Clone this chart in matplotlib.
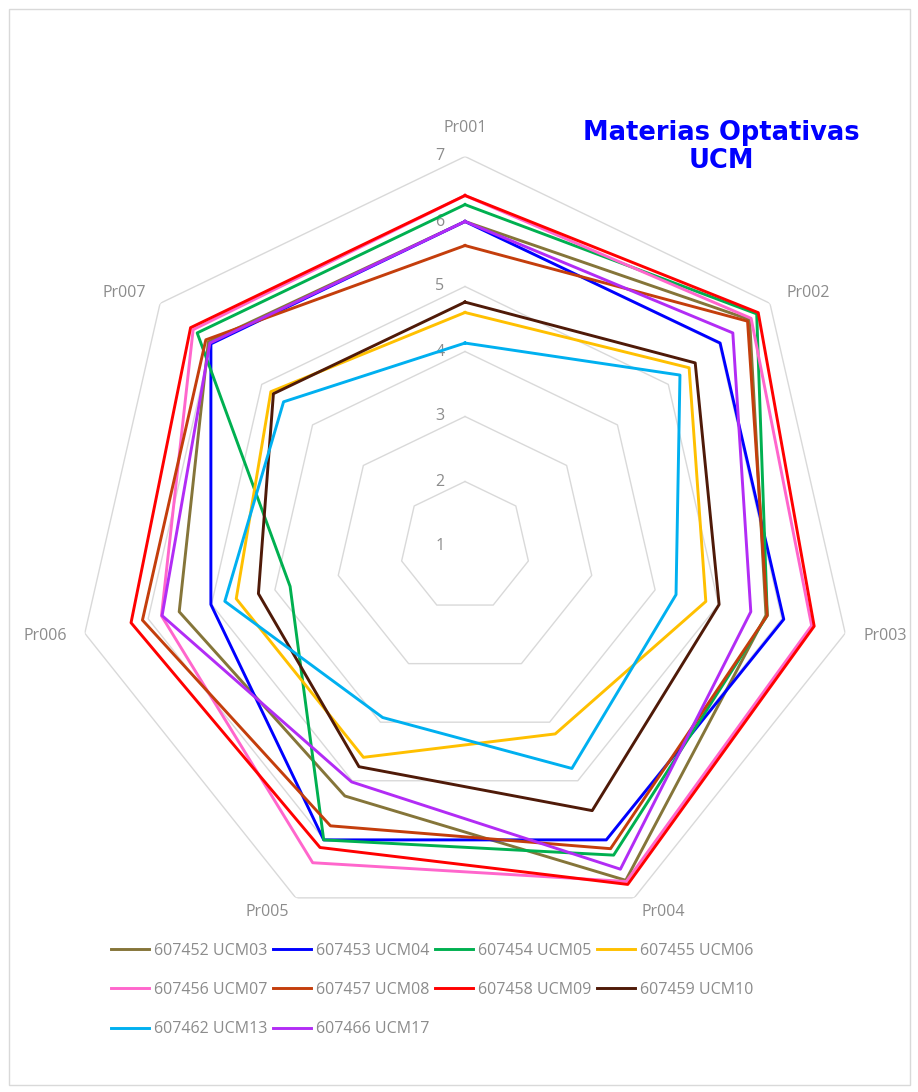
import numpy as np
import matplotlib.pyplot as plt
from matplotlib.patches import Rectangle

# axis categories (clockwise from the top)
categories = ['Pr001', 'Pr002', 'Pr003', 'Pr004', 'Pr005', 'Pr006', 'Pr007']
rticks = [1, 2, 3, 4, 5, 6, 7]

names = ['607452 UCM03', '607453 UCM04', '607454 UCM05', '607455 UCM06', '607456 UCM07',
         '607457 UCM08', '607458 UCM09', '607459 UCM10', '607462 UCM13', '607466 UCM17']

ucm03 = [6.00, 6.60, 5.75, 6.70, 5.26, 5.51, 6.05]
ucm04 = [6.00, 6.02, 6.03, 6.01, 6.01, 5.01, 6.00]
ucm05 = [6.26, 6.74, 5.77, 6.27, 6.01, 3.76, 6.27]
ucm06 = [4.60, 5.41, 4.80, 4.20, 4.60, 4.61, 4.82]
ucm07 = [6.40, 6.63, 6.47, 6.72, 6.40, 5.79, 6.35]
ucm08 = [5.63, 6.56, 5.77, 6.16, 5.77, 6.09, 6.10]
ucm09 = [6.40, 6.77, 6.51, 6.77, 6.14, 6.27, 6.40]
ucm10 = [4.76, 5.53, 5.01, 5.51, 4.76, 4.26, 4.77]
ucm13 = [4.13, 5.23, 4.33, 4.79, 3.92, 4.79, 4.57]
ucm17 = [6.00, 6.27, 5.51, 6.51, 5.02, 5.78, 6.02]

series = [ucm03, ucm04, ucm05, ucm06, ucm07, ucm08, ucm09, ucm10, ucm13, ucm17]
colors = ['#857539', '#0000ff', '#00b050', '#ffc000', '#ff66cc',
          '#c43e0c', '#ff0000', '#4f1a08', '#00b0f0', '#b22cf5']

GRAY = '#8c8c8c'
FONT = ['Open Sans', 'DejaVu Sans']

fig = plt.figure(figsize=(9.18, 10.92), dpi=100)
fig.patches.append(Rectangle((9 / 918, 7 / 1092), 901 / 918, 1076 / 1092, transform=fig.transFigure,
                             fill=False, edgecolor='#d9d9d9', linewidth=1))

ax = fig.add_axes([75 / 918, 155.5 / 1092, 780 / 918, 780 / 1092], projection='polar')
ax.set_theta_zero_location('N')
ax.set_theta_direction(-1)
ax.set_ylim(1, 7)
ax.grid(False)
ax.spines['polar'].set_visible(False)
ax.set_xticks([])
ax.set_yticks([])
ax.set_facecolor('none')

theta = np.linspace(0, 2 * np.pi, len(categories), endpoint=False)
theta_c = np.append(theta, theta[0])

# heptagon gridlines
for r in rticks[1:]:
    ax.plot(theta_c, [r] * len(theta_c), color='#d9d9d9', lw=1.0, zorder=1)

# radial tick labels
for r in rticks:
    ax.annotate(str(r), xy=(0, r), xytext=(-25, 0), textcoords='offset pixels',
                ha='center', va='center', color=GRAY, fontsize=11.5, family=FONT)

# category labels
offsets = [(0, 29), (38, 10), (40, -3), (29, -14), (-29, -14), (-40, -3), (-36, 10)]
for t, lab, off in zip(theta, categories, offsets):
    ax.annotate(lab, xy=(t, 7), xytext=off, textcoords='offset pixels',
                ha='center', va='center', color=GRAY, fontsize=11.5, family=FONT,
                annotation_clip=False)

lines = []
for vals, name, c in zip(series, names, colors):
    ln, = ax.plot(theta_c, vals + vals[:1], color=c, lw=2.1, label=name, zorder=3, clip_on=False)
    lines.append(ln)

# Excel fills the legend row by row; matplotlib fills column by column
order = [0, 4, 8, 1, 5, 9, 2, 6, 3, 7]
leg = fig.legend([lines[i] for i in order], [names[i] for i in order], ncol=4,
                 loc='center', bbox_to_anchor=(432 / 918, 1 - 990 / 1092), frameon=False,
                 handlelength=2.4, handletextpad=0.3, columnspacing=0.35, labelspacing=1.45,
                 prop={'family': FONT, 'size': 11.5})
for t in leg.get_texts():
    t.set_color(GRAY)

fig.text(721 / 918, 1 - 147 / 1092, 'Materias Optativas\nUCM', ha='center', va='center',
         color='#0000ff', fontsize=18.5, fontweight='bold', linespacing=1.15,
         family=['DejaVu Sans'])

fig.savefig('out.png', dpi=100)
